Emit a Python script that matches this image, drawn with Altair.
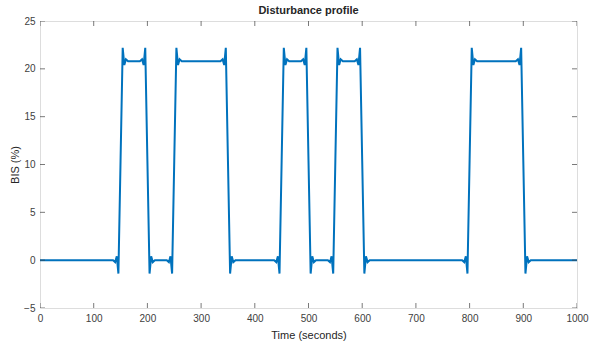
import altair as alt
import pandas as pd

# Disturbance profile: filtered square pulses with ringing near every edge
time_s = [
    0,
    136, 140, 143, 146, 150, 154, 157, 160, 164,
    186, 190, 193, 196, 200, 204, 207, 210, 214,
    236, 240, 243, 246, 250, 254, 257, 260, 264,
    336, 340, 343, 346, 350, 354, 357, 360, 364,
    436, 440, 443, 446, 450, 454, 457, 460, 464,
    486, 490, 493, 496, 500, 504, 507, 510, 514,
    536, 540, 543, 546, 550, 554, 557, 560, 564,
    586, 590, 593, 596, 600, 604, 607, 610, 614,
    786, 790, 793, 796, 800, 804, 807, 810, 814,
    886, 890, 893, 896, 900, 904, 907, 910, 914,
    1000,
]
bis_pct = [
    0,
    0, -0.2, 0.4, -1.4, 10.4, 22.2, 20.4, 21.0, 20.8,
    20.8, 21.0, 20.4, 22.2, 10.4, -1.4, 0.4, -0.2, 0,
    0, -0.2, 0.4, -1.4, 10.4, 22.2, 20.4, 21.0, 20.8,
    20.8, 21.0, 20.4, 22.2, 10.4, -1.4, 0.4, -0.2, 0,
    0, -0.2, 0.4, -1.4, 10.4, 22.2, 20.4, 21.0, 20.8,
    20.8, 21.0, 20.4, 22.2, 10.4, -1.4, 0.4, -0.2, 0,
    0, -0.2, 0.4, -1.4, 10.4, 22.2, 20.4, 21.0, 20.8,
    20.8, 21.0, 20.4, 22.2, 10.4, -1.4, 0.4, -0.2, 0,
    0, -0.2, 0.4, -1.4, 10.4, 22.2, 20.4, 21.0, 20.8,
    20.8, 21.0, 20.4, 22.2, 10.4, -1.4, 0.4, -0.2, 0,
    0,
]

x_ticks = [0, 100, 200, 300, 400, 500, 600, 700, 800, 900, 1000]
y_ticks = [-5, 0, 5, 10, 15, 20, 25]
x_domain = [0, 1000]
y_domain = [-5, 25]

df = pd.DataFrame({"t": time_s, "bis": bis_pct})
dfx = pd.DataFrame({"t": x_ticks})
dfy = pd.DataFrame({"bis": y_ticks})

FONT = "Liberation Sans"
AX = "#404040"

xs = alt.Scale(domain=x_domain, nice=False, zero=False)
ys = alt.Scale(domain=y_domain, nice=False, zero=False)

x_axis = alt.Axis(
    values=x_ticks, title="Time (seconds)", ticks=False, domain=False, grid=False,
    format="d", labelFlush=False, labelOverlap=False,
    labelPadding=5, labelFontSize=10, labelColor=AX, labelFont=FONT,
    titleFont=FONT, titleFontSize=11, titleFontWeight="normal", titleColor="#262626",
    titlePadding=6)
y_axis = alt.Axis(
    values=y_ticks, title="BIS (%)", ticks=False, domain=False, grid=False,
    format="d", labelFlush=False, labelOverlap=False,
    labelPadding=5, labelFontSize=10, labelColor=AX, labelFont=FONT,
    titleFont=FONT, titleFontSize=11, titleFontWeight="normal", titleColor="#262626",
    titlePadding=3)

line = alt.Chart(df).mark_line(color="#0072BD", strokeWidth=2, clip=True).encode(
    x=alt.X("t:Q", scale=xs, axis=x_axis),
    y=alt.Y("bis:Q", scale=ys, axis=y_axis),
)

tick_style = dict(size=10, thickness=1, color=AX, clip=True)

bottom = alt.Chart(dfx).mark_tick(orient="vertical", **tick_style).encode(
    x=alt.X("t:Q", scale=xs, axis=x_axis), y=alt.datum(y_domain[0]))
top = alt.Chart(dfx).mark_tick(orient="vertical", **tick_style).encode(
    x=alt.X("t:Q", scale=xs, axis=x_axis), y=alt.datum(y_domain[1]))
left = alt.Chart(dfy).mark_tick(orient="horizontal", **tick_style).encode(
    y=alt.Y("bis:Q", scale=ys, axis=y_axis), x=alt.datum(x_domain[0]))
right = alt.Chart(dfy).mark_tick(orient="horizontal", **tick_style).encode(
    y=alt.Y("bis:Q", scale=ys, axis=y_axis), x=alt.datum(x_domain[1]))

chart = alt.layer(line, bottom, top, left, right).properties(
    width=537, height=287,
    title=alt.TitleParams("Disturbance profile", fontSize=11, fontWeight="bold",
                          font=FONT, color="#262626", anchor="middle", offset=0),
    autosize=alt.AutoSizeParams(type="none"),
    padding={"left": 40, "top": 21, "right": 13, "bottom": 37},
).configure_view(stroke=AX, strokeWidth=1).configure(background="white")

chart.save("out.html", embed_options={"renderer": "svg", "actions": False})
